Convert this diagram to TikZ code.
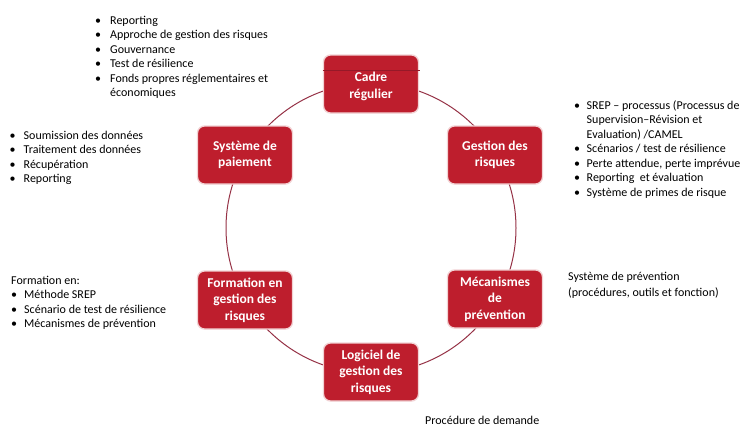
\documentclass[tikz,border=0pt]{standalone}
\usepackage{fontspec}
\setmainfont{Carlito}
\definecolor{boxred}{RGB}{190,30,45}
\definecolor{ringred}{RGB}{150,50,70}
\definecolor{boxedge}{RGB}{242,210,212}
\definecolor{tabline}{RGB}{150,25,40}
\newcommand\bul[1]{\makebox[#1][l]{•}}
\tikzset{
  box/.style={rectangle, rounded corners=7pt, fill=boxred, draw=boxedge, line width=1.3pt,
    minimum width=95pt, minimum height=58pt, text=white, align=center, inner sep=2pt,
    font=\bfseries\fontsize{13.5}{16.5}\selectfont},
  ring/.style={draw=ringred, line width=1pt},
  list/.style={inner sep=0pt, anchor=base west, align=left, font=\fontsize{12}{14.5}\selectfont},
  plain/.style={inner sep=0pt, anchor=base west, align=left, font=\fontsize{12}{15.5}\selectfont}
}
\begin{document}
\begin{tikzpicture}[x=1pt,y=-1pt]
\useasboundingbox (0,0) rectangle (742,426);
\fill[white] (0,0) rectangle (742,426);
\coordinate (c) at (371,228);
\draw[ring] (c) circle[radius=145pt];

\node[box] (cadre) at (371,84) {};
\draw[tabline, line width=0.8pt] ([yshift=-16pt]cadre.north west) -- ([xshift=1pt,yshift=-16pt]cadre.north east);
\node[inner sep=0pt, text=white, align=center, font=\bfseries\fontsize{13.5}{16.5}\selectfont] (cadret) at (371,86.5) {Cadre\\régulier};
\node[box] (paie) at (245,155) {Système de\\paiement};
\node[box] (gest) at (495,155) {Gestion des\\risques};
\node[box] (form) at (245,300) {Formation en\\gestion des\\risques};
\node[box] (meca) at (495,299) {Mécanismes\\de\\prévention};
\node[box] (logi) at (371,372) {Logiciel de\\gestion des\\risques};

\node[list] (topl) at (95,24) {\begin{tabular}[t]{@{}l@{}l@{}}
\bul{15pt} & Reporting\\
\bul{15pt} & Approche de gestion des risques\\
\bul{15pt} & Gouvernance\\
\bul{15pt} & Test de résilience\\
\bul{15pt} & Fonds propres réglementaires et\\
 & économiques
\end{tabular}};

\node[list] (leftl) at (9.5,139) {\begin{tabular}[t]{@{}l@{}l@{}}
\bul{14pt} & Soumission des données\\
\bul{14pt} & Traitement des données\\
\bul{14pt} & Récupération\\
\bul{14pt} & Reporting
\end{tabular}};

\node[list] (rightl) at (574,109) {\begin{tabular}[t]{@{}l@{}l@{}}
\bul{12.5pt} & SREP – processus (Processus de\\
 & Supervision–Révision et\\
 & Evaluation) /CAMEL\\
\bul{12.5pt} & Scénarios / test de résilience\\
\bul{12.5pt} & Perte attendue, perte imprévue\\
\bul{12.5pt} & Reporting\ \ et évaluation\\
\bul{12.5pt} & Système de primes de risque
\end{tabular}};

\node[list] (forml) at (11,284) {\begin{tabular}[t]{@{}l@{}l@{}}
\multicolumn{2}{@{}l@{}}{Formation en:}\\
\bul{13pt} & Méthode SREP\\
\bul{13pt} & Scénario de test de résilience\\
\bul{13pt} & Mécanismes de prévention
\end{tabular}};

\node[plain] (prev) at (568,296) {Système de prévention\\(procédures, outils et fonction)};
\node[plain] (dem) at (425,424) {Procédure de demande};
\end{tikzpicture}
\end{document}
